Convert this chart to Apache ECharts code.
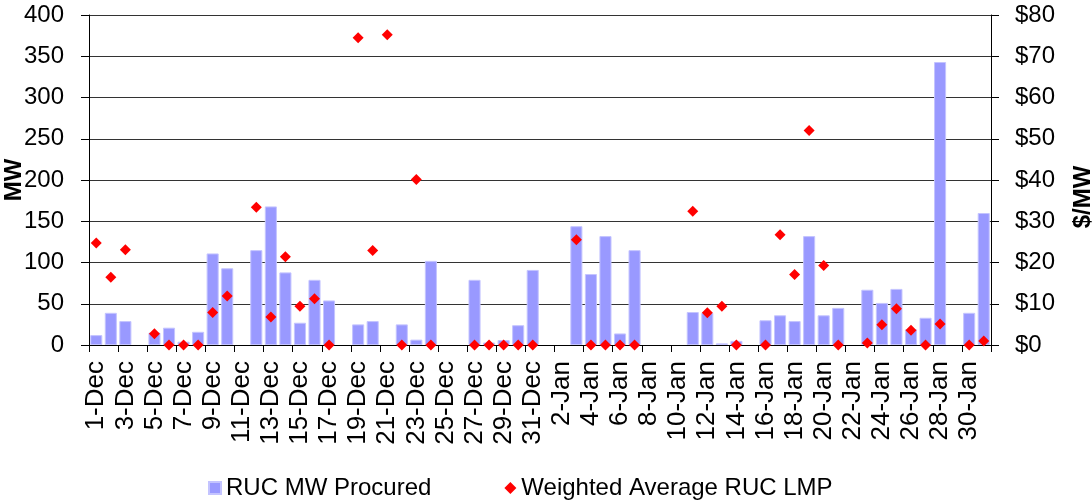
<!DOCTYPE html>
<html>
<head>
<meta charset="utf-8">
<script src="https://cdn.jsdelivr.net/npm/echarts@6/dist/echarts.min.js"></script>
<style>
html,body{margin:0;padding:0;background:#fff;}
#chart{width:1092px;height:502px;}
</style>
</head>
<body>
<div id="chart"></div>
<script>
const categories = [
  '1-Dec','2-Dec','3-Dec','4-Dec','5-Dec','6-Dec','7-Dec','8-Dec','9-Dec','10-Dec',
  '11-Dec','12-Dec','13-Dec','14-Dec','15-Dec','16-Dec','17-Dec','18-Dec','19-Dec','20-Dec',
  '21-Dec','22-Dec','23-Dec','24-Dec','25-Dec','26-Dec','27-Dec','28-Dec','29-Dec','30-Dec','31-Dec',
  '1-Jan','2-Jan','3-Jan','4-Jan','5-Jan','6-Jan','7-Jan','8-Jan','9-Jan','10-Jan',
  '11-Jan','12-Jan','13-Jan','14-Jan','15-Jan','16-Jan','17-Jan','18-Jan','19-Jan','20-Jan',
  '21-Jan','22-Jan','23-Jan','24-Jan','25-Jan','26-Jan','27-Jan','28-Jan','29-Jan','30-Jan','31-Jan'
];

const mwProcured = [
  12, 39, 29, null, 15, 21, 4, 16, 111, 93,
  null, 115, 168, 88, 27, 79, 54, null, 25, 29,
  null, 25, 6.5, 102, null, null, 79, 3, 6, 24, 91,
  null, null, 144, 86, 132, 14, 115, null, null, null,
  40, 39, 2, 5, null, 30, 36, 29, 132, 36,
  45, null, 67, 51, 68, 19, 33, 343, null, 39, 160
];

const ruclmp = [
  24.7, 16.4, 23.1, null, 2.7, 0, 0, 0, 7.9, 11.9,
  null, 33.4, 6.8, 21.4, 9.4, 11.2, 0, null, 74.5, 22.9,
  75.2, 0, 40.1, 0, null, null, 0, 0, 0, 0, 0,
  null, null, 25.5, 0, 0, 0, 0, null, null, null,
  32.4, 7.8, 9.4, 0, null, 0, 26.7, 17.1, 52, 19.3,
  0, null, 0.5, 4.9, 8.8, 3.6, 0, 5.1, null, 0, 1.0
];

const mwTicks = {min: 0, max: 400, interval: 50};
const lmpTicks = {min: 0, max: 80, interval: 10};

const FONT = 'Liberation Sans, Arial, sans-serif';
const chart = echarts.init(document.getElementById('chart'));
chart.setOption({
  animation: false,
  backgroundColor: '#fff',
  grid: {left: 89, right: 101, top: 15, bottom: 157, containLabel: false, outerBoundsMode: 'none'},
  legend: {
    left: 203, top: 471,
    itemGap: 73,
    itemWidth: 12, itemHeight: 12,
    textStyle: {fontFamily: FONT, fontSize: 24, color: '#000'},
    data: [
      {name: 'RUC MW Procured', icon: 'rect', itemStyle: {color: '#9999ff'}},
      {name: 'Weighted Average RUC LMP', icon: 'diamond', itemStyle: {color: '#ff0000', opacity: 1}}
    ]
  },
  xAxis: {
    type: 'category',
    data: categories,
    boundaryGap: true,
    axisLine: {lineStyle: {color: '#000', width: 1}},
    axisTick: {show: true, interval: 1, length: 7, lineStyle: {color: '#000'}},
    axisLabel: {interval: 1, rotate: 90, fontFamily: FONT, fontSize: 26, color: '#000', margin: 16},
    splitLine: {show: false}
  },
  yAxis: [
    {
      type: 'value', position: 'left',
      min: mwTicks.min, max: mwTicks.max, interval: mwTicks.interval,
      name: 'MW', nameLocation: 'middle', nameGap: 63, nameRotate: 90, nameMoveOverlap: false,
      nameTextStyle: {fontFamily: FONT, fontSize: 24, fontWeight: 'bold', color: '#000'},
      axisLine: {show: true, lineStyle: {color: '#000'}},
      axisTick: {show: true, length: 8, lineStyle: {color: '#000'}},
      axisLabel: {fontFamily: FONT, fontSize: 24, color: '#000', margin: 25},
      splitLine: {show: true, lineStyle: {color: '#333', width: 1}}
    },
    {
      type: 'value', position: 'right',
      min: lmpTicks.min, max: lmpTicks.max, interval: lmpTicks.interval,
      name: '$/MW', nameLocation: 'middle', nameGap: 80, nameRotate: 90,
      nameTextStyle: {fontFamily: FONT, fontSize: 24, fontWeight: 'bold', color: '#000', padding: [0, 34, 0, 0]},
      axisLine: {show: true, lineStyle: {color: '#000'}},
      axisTick: {show: true, length: 8, lineStyle: {color: '#000'}},
      axisLabel: {fontFamily: FONT, fontSize: 24, color: '#000', margin: 24, formatter: v => '$' + v},
      splitLine: {show: false}
    }
  ],
  series: [
    {
      name: 'RUC MW Procured', type: 'bar', yAxisIndex: 0,
      data: mwProcured,
      barCategoryGap: '17%',
      itemStyle: {color: '#9999ff', borderColor: '#c4c4ff', borderWidth: 1}
    },
    {
      name: 'Weighted Average RUC LMP', type: 'scatter', yAxisIndex: 1,
      data: ruclmp,
      symbol: 'diamond', symbolSize: 11,
      itemStyle: {color: '#ff0000', opacity: 1}
    }
  ]
});
</script>
</body>
</html>
